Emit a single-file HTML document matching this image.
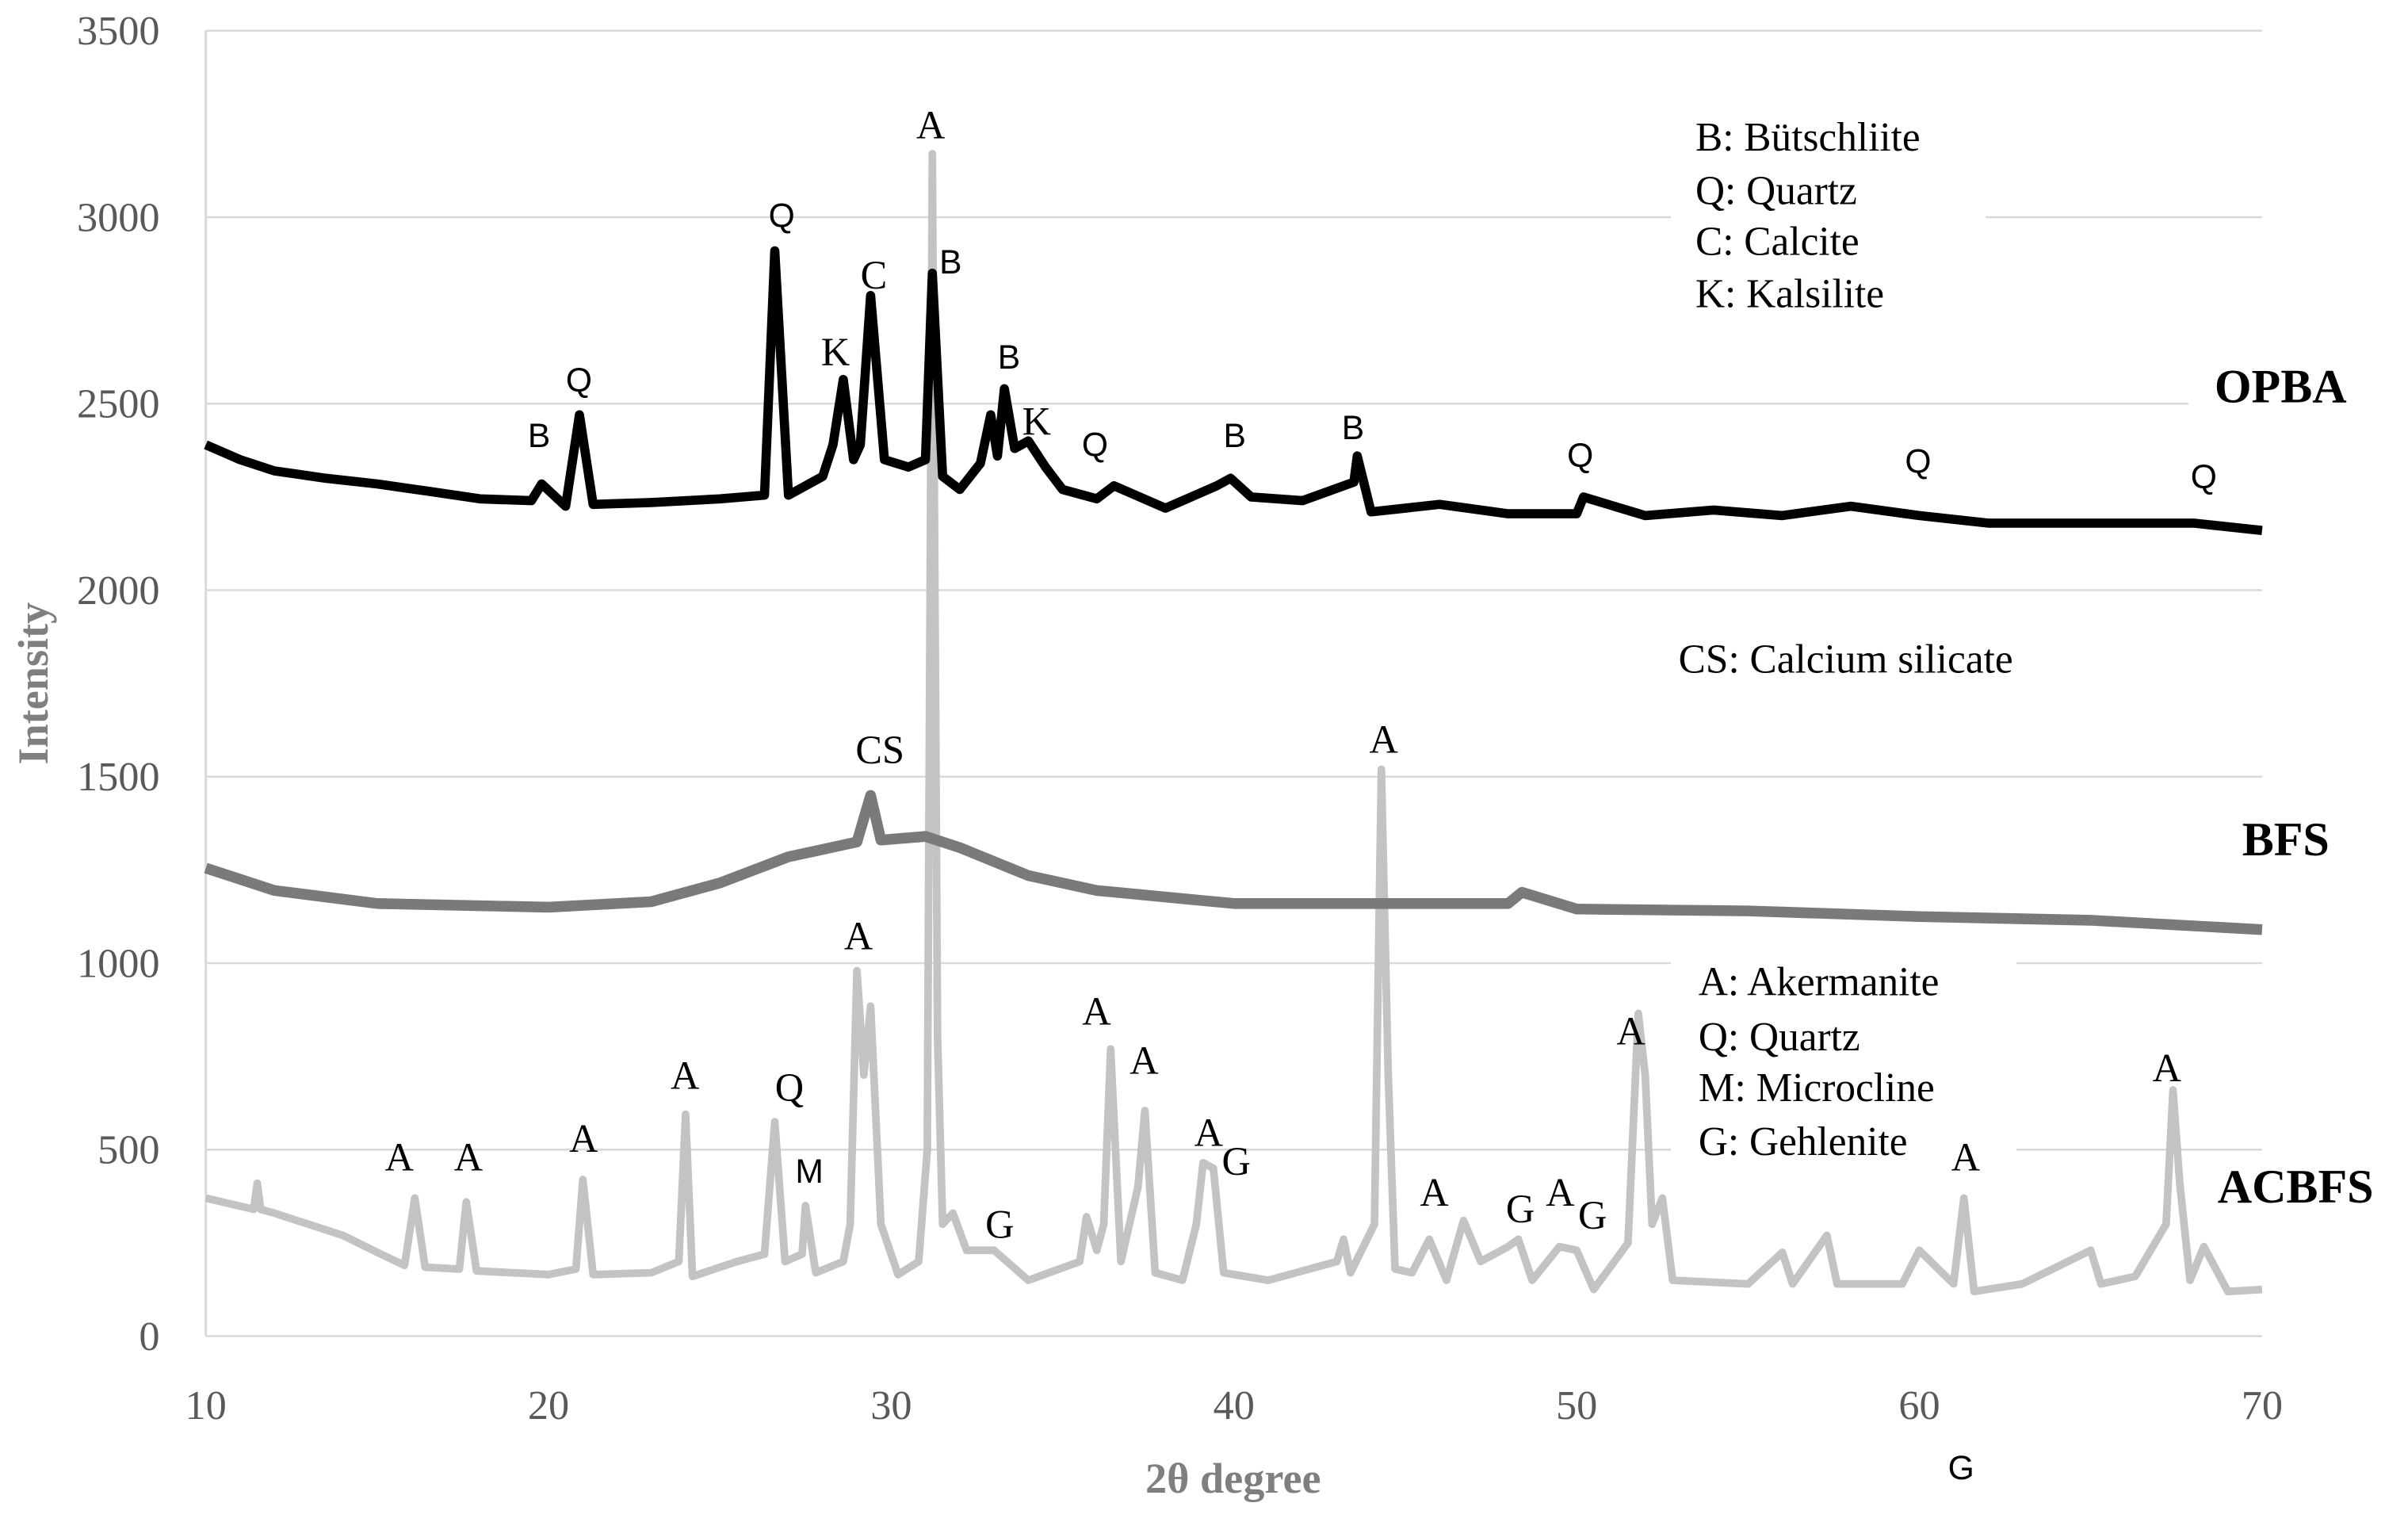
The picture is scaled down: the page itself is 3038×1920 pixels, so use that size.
<!DOCTYPE html>
<html><head><meta charset="utf-8"><style>
html,body{margin:0;padding:0;background:#fff;}
svg{display:block;}
.t{font-family:"Liberation Serif",serif;}
.s{font-family:"Liberation Sans",sans-serif;}
</style></head><body>
<svg id="chart" width="3038" height="1920" viewBox="0 0 1568 991" xmlns="http://www.w3.org/2000/svg">
<rect x="0" y="0" width="1568" height="991" fill="#fff"/>
<g id="grid"></g>
<g id="series"></g>
<g id="ann"></g>
<g id="ticks"></g>
</svg>
<script>
const xTicks = [10, 20, 30, 40, 50, 60, 70];
const yTicks = [0, 500, 1000, 1500, 2000, 2500, 3000, 3500];
const opbaX = [10,11,12,13.5,15,16.5,18,19.5,19.8,20.5,20.9,21.3,23,25,26.3,26.6,27,28,28.3,28.6,28.9,29.1,29.4,29.8,30.5,31.0,31.2,31.5,32,32.6,32.9,33.1,33.3,33.6,34,34.5,35,36,36.5,38,39.5,39.9,40.5,42,43.5,43.6,44,46,48,50,50.2,52,54,56,58,60,62,65,68,70];
const opbaY = [2390,2350,2320,2300,2285,2265,2245,2240,2285,2225,2470,2230,2235,2245,2255,2910,2255,2305,2390,2565,2350,2390,2790,2350,2330,2350,2850,2305,2270,2340,2470,2360,2540,2380,2400,2330,2270,2245,2280,2220,2280,2300,2250,2240,2290,2360,2210,2230,2205,2205,2250,2200,2215,2200,2225,2200,2180,2180,2180,2160];
const bfsX = [10,12,15,20,23,25,27,29,29.4,29.7,31,32,34,36,40,44,48,48.4,50,55,60,65,70];
const bfsY = [1255,1195,1160,1150,1165,1215,1285,1325,1450,1330,1340,1310,1235,1195,1160,1160,1160,1190,1145,1140,1125,1115,1090];
const acbfsX = [10,11.4,11.5,11.6,12,14,15,15.8,16.1,16.4,17.4,17.6,17.9,20,20.8,21.0,21.3,23,23.8,24.0,24.2,25.5,26.3,26.6,26.9,27.4,27.5,27.8,28.6,28.8,29.0,29.2,29.4,29.7,30.2,30.8,31.05,31.2,31.35,31.5,31.8,32.2,33,34,35.5,35.7,36,36.2,36.4,36.7,37.2,37.4,37.7,38.5,38.9,39.1,39.4,39.7,41,43,43.2,43.4,44.1,44.3,44.5,44.7,45.2,45.7,46.2,46.7,47.2,48,48.3,48.7,49.5,50,50.5,51.5,51.8,52.0,52.2,52.5,52.8,55,56,56.3,57.3,57.6,59.5,60,61,61.3,61.6,63,65,65.3,66.3,67.2,67.4,67.6,67.9,68.3,69,70];
const acbfsY = [370,340,410,340,330,270,225,190,370,185,180,360,175,165,180,420,165,170,200,595,160,200,220,575,200,220,350,170,200,300,980,700,885,300,165,200,500,3170,800,300,330,230,230,150,200,320,230,300,770,200,400,605,170,150,300,465,450,170,150,200,260,170,300,1520,710,180,170,260,150,310,200,240,260,150,240,230,125,250,865,700,300,370,150,140,225,140,270,140,140,230,140,370,120,140,230,140,160,300,660,410,150,240,120,125];
const X0=134, X1=1473, Y0=870, Y1=20;
function sx(v){return X0+(v-10)/60*(X1-X0);}
function sy(v){return Y0-v/3500*(Y0-Y1);}
const NS="http://www.w3.org/2000/svg";
function mk(tag, attrs, parent){const e=document.createElementNS(NS,tag);for(const k in attrs)e.setAttribute(k,attrs[k]);parent.appendChild(e);return e;}
const grid=document.getElementById('grid'), ser=document.getElementById('series'), ann=document.getElementById('ann'), tk=document.getElementById('ticks');
yTicks.forEach(v=>{
  const l=mk('line',{x1:X0,x2:X1,y1:sy(v),y2:sy(v),stroke:'#d9d9d9','stroke-width':1.3},grid);
  
  
  const t=mk('text',{x:104,y:sy(v)+9,'text-anchor':'end','font-size':27,fill:'#595959',class:'t'},tk);
  t.textContent=v;
  
  
});
const ax=mk('line',{x1:X0,x2:X0,y1:Y1,y2:Y0,stroke:'#d9d9d9','stroke-width':1.5},grid);


xTicks.forEach(v=>{
  const t=mk('text',{x:sx(v),y:924,'text-anchor':'middle','font-size':27,fill:'#595959',class:'t'},tk);
  t.textContent=v;
  
  
});
function drawSeries(xs,ys,color,w,name){
  const d=xs.map((x,i)=>(i?'L':'M')+sx(x).toFixed(1)+' '+sy(ys[i]).toFixed(1)).join(' ');
  const p=mk('path',{d:d,fill:'none',stroke:color,'stroke-width':w,'stroke-linejoin':'round'},ser);
  
  
}
drawSeries(acbfsX,acbfsY,'#c3c3c3',5,'acbfs-line');
drawSeries(bfsX,bfsY,'#7a7a7a',7,'bfs-line');
drawSeries(opbaX,opbaY,'#000',6,'opba-line');
[[1088,70,205,140],[1425,235,140,40],[1088,612,225,150],[1440,755,125,40]].forEach(b=>{
  const r=mk('rect',{x:b[0],y:b[1],width:b[2],height:b[3],fill:'#fff'},ann);
  
  
});
const labels=[
 [606,90,'A','t',26],[509,148,'Q','s',22],[569,188,'C','t',26],[619,178,'B','s',22],[544,238,'K','t',26],[377,255,'Q','s',22],[351,291,'B','s',22],[657,240,'B','s',22],[675,283,'K','t',26],[713,297,'Q','s',22],[804,291,'B','s',22],[881,286,'B','s',22],[1029,304,'Q','s',22],[1249,308,'Q','s',22],[1435,318,'Q','s',22],
 [573,497,'CS','t',26],[901,490,'A','t',26],
 [559,618,'A','t',26],[260,762,'A','t',26],[305,762,'A','t',26],[380,750,'A','t',26],[446,709,'A','t',26],[514,717,'Q','t',26],[527,770,'M','s',22],[651,806,'G','t',26],[714,667,'A','t',26],[745,699,'A','t',26],[787,746,'A','t',26],[805,765,'G','t',26],[934,785,'A','t',26],[990,796,'G','t',26],[1016,785,'A','t',26],[1037,800,'G','t',26],[1062,680,'A','t',26],[1280,762,'A','t',26],[1411,704,'A','t',26],[1277,963,'G','s',22]
];
labels.forEach(a=>{
  const t=mk('text',{x:a[0],y:a[1],'text-anchor':'middle','font-size':a[4],fill:'#000',class:a[3]},ann);
  t.textContent=a[2];
  
  
});
const legend=[[1104,98,'B: Bütschliite'],[1104,133,'Q: Quartz'],[1104,166,'C: Calcite'],[1104,200,'K: Kalsilite'],[1093,438,'CS: Calcium silicate'],[1106,648,'A: Akermanite'],[1106,684,'Q: Quartz'],[1106,717,'M: Microcline'],[1106,752,'G: Gehlenite']];
legend.forEach(a=>{
  const t=mk('text',{x:a[0],y:a[1],'font-size':26.5,fill:'#000',class:'t'},ann);
  t.textContent=a[2];
  
  
});
[[1442,262,'OPBA'],[1460,557,'BFS'],[1444,783,'ACBFS']].forEach(a=>{
  const t=mk('text',{x:a[0],y:a[1],'font-size':31,'font-weight':'bold',fill:'#000',class:'t'},ann);
  t.textContent=a[2];
  
  
});
const xt=mk('text',{x:803,y:972,'text-anchor':'middle','font-size':28,'font-weight':'bold',fill:'#7f7f7f',class:'t'},tk);
xt.textContent='2θ degree';


const yt=mk('text',{x:0,y:0,'text-anchor':'middle','font-size':28,'font-weight':'bold',fill:'#7f7f7f',class:'t',transform:'translate(31,445) rotate(-90)'},tk);
yt.textContent='Intensity';


</script>
</body></html>
